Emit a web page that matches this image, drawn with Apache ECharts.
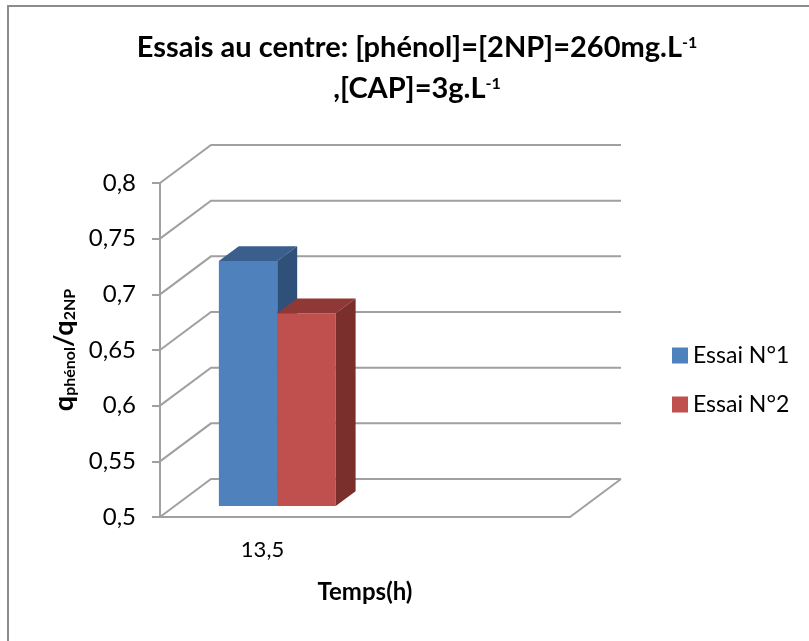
<!DOCTYPE html>
<html>
<head>
<meta charset="utf-8">
<script src="https://cdn.jsdelivr.net/npm/echarts@6/dist/echarts.min.js"></script>
<style>
  html, body { margin: 0; padding: 0; background: #fff; }
  #chart { width: 809px; height: 641px; }
</style>
</head>
<body>
<div id="chart"></div>
<script>
// Categories on the time axis (the second slot is left empty)
const categories = ['13,5', ''];
// Ratio q_phénol / q_2NP for each test
const essai1 = [0.72];
const essai2 = [0.673];
// Value axis ticks
const yTicks = [0.5, 0.55, 0.6, 0.65, 0.7, 0.75, 0.8];
const seriesNames = ['Essai N°1', 'Essai N°2'];

const FONT = 'Lato, "Open Sans", sans-serif';
const GRID_COLOR = '#a0a0a0';
// Perspective offset of the back wall (pixels)
const DX = 51, DY = -38;
// Depth position of the bar's front and back planes (fraction of full depth)
const T0 = 0.29, T1 = 0.68;
// Width of each bar as a fraction of the category band
const BAR_FRAC = 0.285;

const palettes = [
  { front: '#4f81bd', top: '#3a5f8d', side: '#2f5079' },
  { front: '#c0504d', top: '#8f3836', side: '#7a2f2d' }
];

const yMin = yTicks[0], yMax = yTicks[yTicks.length - 1];

function wallItem(params, api) {
  const cs = params.coordSys;
  const v = api.value(0);
  const y = api.coord([0, v])[1];
  const children = [{
    type: 'polyline',
    shape: { points: [[cs.x, y], [cs.x + DX, y + DY], [cs.x + cs.width + DX, y + DY]] },
    style: { stroke: GRID_COLOR, lineWidth: 2, fill: null }
  }];
  if (v === yMin) {
    children.push({
      type: 'line',
      shape: { x1: cs.x + cs.width, y1: y, x2: cs.x + cs.width + DX, y2: y + DY },
      style: { stroke: GRID_COLOR, lineWidth: 2 }
    });
  }
  return { type: 'group', children };
}

function barItem(idx) {
  const pal = palettes[idx];
  return function (params, api) {
    const cat = api.value(0), val = api.value(1);
    const base = api.coord([cat, yMin]);
    const top = api.coord([cat, val]);
    const w = api.size([1, 0])[0] * BAR_FRAC;
    const x0 = base[0] + (idx - 1) * w, x1 = x0 + w;
    const fx = DX * T0, fy = DY * T0, bx = DX * T1, by = DY * T1;
    const yb = base[1], yt = top[1];
    return {
      type: 'group',
      children: [
        { type: 'polygon', shape: { points: [[x0 + fx, yt + fy], [x1 + fx, yt + fy], [x1 + fx, yb + fy], [x0 + fx, yb + fy]] },
          style: { fill: pal.front } },
        { type: 'polygon', shape: { points: [[x0 + fx, yt + fy], [x1 + fx, yt + fy], [x1 + bx, yt + by], [x0 + bx, yt + by]] },
          style: { fill: pal.top } },
        { type: 'polygon', shape: { points: [[x1 + fx, yt + fy], [x1 + bx, yt + by], [x1 + bx, yb + by], [x1 + fx, yb + fy]] },
          style: { fill: pal.side } }
      ]
    };
  };
}

const chart = echarts.init(document.getElementById('chart'), null, { renderer: 'canvas' });

chart.setOption({
  backgroundColor: '#fff',
  animation: false,
  textStyle: { fontFamily: FONT },
  title: {
    text: '{t|Essais au centre: [phénol]=[2NP]=260mg.L}{s|-1}\n{t|,[CAP]=3g.L}{s|-1}',
    left: 412,
    textAlign: 'center',
    top: 22,
    textStyle: {
      rich: {
        t: { fontFamily: FONT, fontSize: 29, fontWeight: 'bold', color: '#000', lineHeight: 41 },
        s: { fontFamily: FONT, fontSize: 16, fontWeight: 'bold', color: '#000', verticalAlign: 'middle', lineHeight: 20, padding: [0, 0, 9, 0] }
      }
    }
  },
  graphic: [{
    type: 'rect',
    shape: { x: 8, y: 6, width: 830, height: 660 },
    style: { fill: null, stroke: '#8c8c8c', lineWidth: 2 },
    silent: true
  }],
  legend: {
    orient: 'vertical',
    left: 667,
    top: 339,
    icon: 'rect',
    itemWidth: 16,
    itemHeight: 16,
    itemGap: 26,
    data: seriesNames,
    textStyle: { fontFamily: FONT, fontSize: 23, color: '#000' }
  },
  grid: { left: 160, top: 183, width: 410, height: 334 },
  xAxis: {
    type: 'category',
    data: categories,
    axisLine: { show: true, lineStyle: { color: GRID_COLOR, width: 2 } },
    axisTick: { show: false },
    axisLabel: { interval: 0, fontFamily: FONT, fontSize: 22, color: '#000', margin: 22 },
    name: 'Temps(h)',
    nameLocation: 'middle',
    nameGap: 63,
    nameTextStyle: { fontFamily: FONT, fontSize: 24, fontWeight: 'bold', color: '#000' }
  },
  yAxis: {
    type: 'value',
    min: yMin,
    max: yMax,
    interval: 0.05,
    axisLine: { show: true, lineStyle: { color: GRID_COLOR, width: 2 } },
    axisTick: { show: true, length: 8, lineStyle: { color: GRID_COLOR, width: 2 } },
    splitLine: { show: false },
    axisLabel: {
      fontFamily: FONT, fontSize: 24, color: '#000', margin: 24,
      formatter: v => Number(v.toFixed(2)).toString().replace('.', ',')
    },
    name: '{q|q}{sub|phénol}{q|/q}{sub|2NP}',
    nameLocation: 'middle',
    nameGap: 82,
    nameTextStyle: {
      rich: {
        q: { fontFamily: FONT, fontSize: 27, fontWeight: 'bold', color: '#000' },
        sub: { fontFamily: FONT, fontSize: 16, fontWeight: 'bold', color: '#000', verticalAlign: 'bottom' }
      }
    }
  },
  series: [
    {
      type: 'custom',
      name: 'wall',
      silent: true,
      clip: false,
      z: 1,
      renderItem: wallItem,
      data: yTicks.map(v => [v]),
      encode: { x: -1, y: 0 }
    },
    {
      type: 'custom',
      name: seriesNames[0],
      clip: false,
      z: 2,
      itemStyle: { color: palettes[0].front },
      renderItem: barItem(0),
      data: essai1.map((v, i) => [i, v]),
      encode: { x: 0, y: 1 }
    },
    {
      type: 'custom',
      name: seriesNames[1],
      clip: false,
      z: 3,
      itemStyle: { color: palettes[1].front },
      renderItem: barItem(1),
      data: essai2.map((v, i) => [i, v]),
      encode: { x: 0, y: 1 }
    }
  ]
});
</script>
</body>
</html>
